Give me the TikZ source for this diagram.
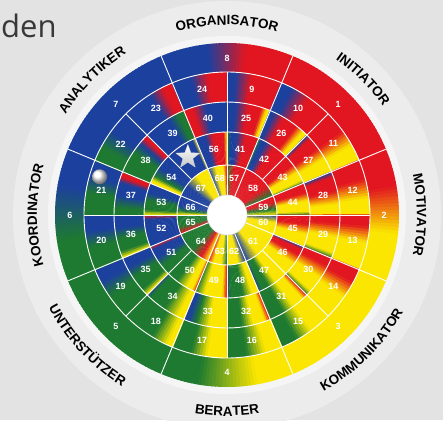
\documentclass[tikz,border=0pt]{standalone}
\usepackage{fontspec}
\setmainfont{Liberation Sans}
\newfontfamily\denfont{Open Sans}
\usetikzlibrary{decorations.text,shapes.geometric}
\definecolor{B}{RGB}{28,64,158}
\definecolor{R}{RGB}{226,22,32}
\definecolor{G}{RGB}{30,122,48}
\definecolor{Y}{RGB}{250,230,0}
\definecolor{bgA}{RGB}{227,227,227}
\definecolor{bgB}{RGB}{236,236,236}
\definecolor{bgC}{RGB}{245,245,245}
\newcommand\wseg[5]{%
  \foreach \sp/\sc [remember=\sp as \spp (initially 0), remember=\sc as \scc (initially white)] in {#5} {%
    \pgfmathsetmacro\sw{(#4-(#3))*(\sp-\spp)}%
    \ifdim\sw pt>0.01pt
      \pgfmathtruncatemacro\sk{max(1,ceil(\sw/1.2))}%
      \pgfmathsetmacro\sbase{#3+(#4-(#3))*\spp}%
      \foreach \j in {1,...,\sk}{%
        \pgfmathsetmacro\sa{\sbase+\sw*(\j-1)/\sk}%
        \pgfmathsetmacro\ea{\sa+\sw/\sk+0.3}%
        \pgfmathtruncatemacro\mx{round(100-100*(\j-0.5)/\sk)}%
        \fill[\scc!\mx!\sc] (\sa:#1) arc[start angle=\sa,end angle=\ea,radius=#1] -- (\ea:#2) arc[start angle=\ea,end angle=\sa,radius=#2] -- cycle;
      }%
    \fi
  }%
}
\def\lblfont{\fontsize{13.5}{13.5}\selectfont\bfseries}
\begin{document}
\begin{tikzpicture}[x=1pt,y=1pt,
  num/.style={text=white,font=\fontsize{9}{9}\selectfont\bfseries,inner sep=0},
  wl/.style={white,line width=0.9pt}]
\useasboundingbox (-227,-205) rectangle (216,215);
\fill[bgA] (-227,-205) rectangle (216,215);
\fill[bgB] (0,0) circle[radius=214];
\fill[bgC] (0,0) circle[radius=179];
% ring 1
\def\ra{143}\def\rb{172}
\wseg{\ra}{\rb}{67.5}{112.5}{0/R,0.35/R,0.65/B,1/B}
\wseg{\ra}{\rb}{22.5}{67.5}{0/R,1/R}
\wseg{\ra}{\rb}{-22.5}{22.5}{0/Y,0.36/Y,0.72/R,1/R}
\wseg{\ra}{\rb}{-67.5}{-22.5}{0/Y,1/Y}
\wseg{\ra}{\rb}{-112.5}{-67.5}{0/G,0.28/G,0.73/Y,1/Y}
\wseg{\ra}{\rb}{-157.5}{-112.5}{0/G,1/G}
\wseg{\ra}{\rb}{157.5}{202.5}{0/B,0.27/B,0.7/G,1/G}
\wseg{\ra}{\rb}{112.5}{157.5}{0/B,1/B}
% ring 2
\def\ra{113}\def\rb{143}
\wseg{\ra}{\rb}{67.5}{90}{0/R,0.55/R,0.85/B,1/B}
\wseg{\ra}{\rb}{45}{67.5}{0/R,0.45/R,0.8/B,1/B}
\wseg{\ra}{\rb}{22.5}{45}{0/Y,0.3/Y,0.6/R,1/R}
\wseg{\ra}{\rb}{0}{22.5}{0/Y,0.3/Y,0.65/R,1/R}
\wseg{\ra}{\rb}{-22.5}{0}{0/Y,0.5/Y,0.8/R,1/R}
\wseg{\ra}{\rb}{-45}{-22.5}{0/Y,0.45/Y,0.75/R,1/R}
\wseg{\ra}{\rb}{-67.5}{-45}{0/G,0.3/G,0.6/Y,1/Y}
\wseg{\ra}{\rb}{-90}{-67.5}{0/G,0.35/G,0.7/Y,1/Y}
\wseg{\ra}{\rb}{-112.5}{-90}{0/G,0.35/G,0.65/Y,1/Y}
\wseg{\ra}{\rb}{-135}{-112.5}{0/G,0.6/G,0.9/Y,1/Y}
\wseg{\ra}{\rb}{-157.5}{-135}{0/B,0.25/B,0.55/G,1/G}
\wseg{\ra}{\rb}{180}{202.5}{0/B,0.3/B,0.6/G,1/G}
\wseg{\ra}{\rb}{157.5}{180}{0/B,0.3/B,0.6/G,1/G}
\wseg{\ra}{\rb}{135}{157.5}{0/B,0.4/B,0.75/G,1/G}
\wseg{\ra}{\rb}{112.5}{135}{0/R,0.2/R,0.45/B,1/B}
\wseg{\ra}{\rb}{90}{112.5}{0/R,0.35/R,0.65/B,1/B}
% ring 3
\def\ra{83}\def\rb{113}
\wseg{\ra}{\rb}{67.5}{90}{0/Y,0.08/Y,0.2/R,0.5/R,0.8/B,1/B}
\wseg{\ra}{\rb}{45}{67.5}{0/Y,0.12/Y,0.3/R,0.65/R,0.9/B,1/B}
\wseg{\ra}{\rb}{22.5}{45}{0/Y,0.35/Y,0.6/R,0.9/R,1/B}
\wseg{\ra}{\rb}{0}{22.5}{0/Y,0.25/Y,0.55/R,0.88/R,1/B}
\wseg{\ra}{\rb}{-22.5}{0}{0/G,0.12/Y,0.5/Y,0.8/R,1/R}
\wseg{\ra}{\rb}{-45}{-22.5}{0/G,0.12/Y,0.5/Y,0.8/R,1/R}
\wseg{\ra}{\rb}{-67.5}{-45}{0/G,0.35/G,0.6/Y,0.88/Y,1/R}
\wseg{\ra}{\rb}{-90}{-67.5}{0/G,0.35/G,0.6/Y,0.88/Y,1/R}
\wseg{\ra}{\rb}{-112.5}{-90}{0/B,0.1/B,0.3/G,0.6/Y,1/Y}
\wseg{\ra}{\rb}{-135}{-112.5}{0/B,0.1/G,0.5/G,0.85/Y,1/Y}
\wseg{\ra}{\rb}{-157.5}{-135}{0/B,0.25/B,0.5/G,0.85/G,1/Y}
\wseg{\ra}{\rb}{180}{202.5}{0/B,0.3/B,0.55/G,0.85/G,1/Y}
\wseg{\ra}{\rb}{157.5}{180}{0/R,0.12/R,0.25/B,0.55/B,0.85/G,1/G}
\wseg{\ra}{\rb}{135}{157.5}{0/R,0.1/R,0.25/B,0.5/G,1/G}
\wseg{\ra}{\rb}{112.5}{135}{0/G,0.15/G,0.4/B,1/B}
\wseg{\ra}{\rb}{90}{112.5}{0/B,0.5/B,0.8/R,1/R}
% ring 4
\def\ra{50}\def\rb{83}
\wseg{\ra}{\rb}{67.5}{90}{0/R,0.4/R,0.7/B,0.88/B,1/G}
\wseg{\ra}{\rb}{45}{67.5}{0/R,0.45/R,0.75/B,0.9/B,1/G}
\wseg{\ra}{\rb}{22.5}{45}{0/G,0.1/Y,0.4/Y,0.65/R,1/R}
\wseg{\ra}{\rb}{0}{22.5}{0/G,0.1/Y,0.45/Y,0.7/R,1/R}
\wseg{\ra}{\rb}{-22.5}{0}{0/Y,0.4/Y,0.7/R,1/R}
\wseg{\ra}{\rb}{-45}{-22.5}{0/Y,0.4/Y,0.7/R,0.9/R,1/B}
\wseg{\ra}{\rb}{-67.5}{-45}{0/B,0.12/G,0.35/G,0.6/Y,1/Y}
\wseg{\ra}{\rb}{-90}{-67.5}{0/B,0.12/G,0.5/G,0.8/Y,1/Y}
\wseg{\ra}{\rb}{-112.5}{-90}{0/G,0.3/Y,0.85/Y,1/R}
\wseg{\ra}{\rb}{-135}{-112.5}{0/G,0.35/G,0.7/Y,0.9/Y,1/R}
\wseg{\ra}{\rb}{-157.5}{-135}{0/R,0.12/B,0.4/B,0.7/G,1/G}
\wseg{\ra}{\rb}{180}{202.5}{0/R,0.15/B,0.6/B,1/B}
\wseg{\ra}{\rb}{157.5}{180}{0/B,0.3/B,0.55/G,0.85/G,1/Y}
\wseg{\ra}{\rb}{135}{157.5}{0/B,0.45/B,0.75/G,0.9/Y,1/Y}
\wseg{\ra}{\rb}{112.5}{135}{0/Y,0.1/B,1/B}
\wseg{\ra}{\rb}{90}{112.5}{0/Y,0.1/R,0.45/R,0.7/B,1/B}
% ring 5
\def\ra{20}\def\rb{50}
\wseg{\ra}{\rb}{67.5}{90}{0/R,0.6/R,1/G}
\wseg{\ra}{\rb}{22.5}{67.5}{0/G,0.3/R,1/R}
\wseg{\ra}{\rb}{0}{22.5}{0/Y,0.3/G,0.7/R,1/R}
\wseg{\ra}{\rb}{-22.5}{0}{0/Y,0.6/Y,1/B}
\wseg{\ra}{\rb}{-67.5}{-22.5}{0/B,0.35/Y,1/Y}
\wseg{\ra}{\rb}{-90}{-67.5}{0/Y,0.6/Y,1/B}
\wseg{\ra}{\rb}{-112.5}{-90}{0/R,0.3/Y,0.7/Y,1/G}
\wseg{\ra}{\rb}{-157.5}{-112.5}{0/G,0.5/G,0.8/R,1/Y}
\wseg{\ra}{\rb}{180}{202.5}{0/G,0.6/G,1/R}
\wseg{\ra}{\rb}{157.5}{180}{0/B,0.5/B,0.8/G,1/Y}
\wseg{\ra}{\rb}{112.5}{157.5}{0/Y,0.35/Y,0.7/B,1/B}
\wseg{\ra}{\rb}{90}{112.5}{0/R,0.2/Y,0.6/Y,1/B}
% white lines
\foreach \r in {50,83,113,143}{\draw[wl] (0,0) circle[radius=\r];}
\foreach \a in {22.5,67.5,112.5,157.5,202.5,247.5,292.5,337.5}{\draw[wl] (\a:20) -- (\a:172);}
\foreach \a in {0,90,180,270}{\draw[wl] (\a:20) -- (\a:143);}
\foreach \a in {45,135,225,315}{\draw[wl] (\a:50) -- (\a:143);}
\node[circle,fill=white,draw=gray!25,line width=0.6pt,minimum size=40pt,inner sep=0] (hole) at (0,0) {};
% numbers
\foreach \n/\a in {8/90,1/45,2/0,3/-45,4/-90,5/-135,6/180,7/135}{\node[num] (n\n) at (\a:157) {\n};}
\foreach \n/\a in {9/78.75,10/56.25,11/33.75,12/11.25,13/-11.25,14/-33.75,15/-56.25,16/-78.75,17/-101.25,18/-123.75,19/-146.25,20/-168.75,21/168.75,22/146.25,23/123.75,24/101.25}{\node[num] (n\n) at (\a:128) {\n};}
\foreach \n/\a in {25/78.75,26/56.25,27/33.75,28/11.25,29/-11.25,30/-33.75,31/-56.25,32/-78.75,33/-101.25,34/-123.75,35/-146.25,36/-168.75,37/168.75,38/146.25,39/123.75,40/101.25}{\node[num] (n\n) at (\a:98) {\n};}
\foreach \n/\a in {41/78.75,42/56.25,43/33.75,44/11.25,45/-11.25,46/-33.75,47/-56.25,48/-78.75,49/-101.25,50/-123.75,51/-146.25,52/-168.75,53/168.75,54/146.25,56/101.25}{\node[num] (n\n) at (\a:67) {\n};}
\foreach \n/\a in {57/78.75,58/45,59/11.25,60/-11.25,61/-45,62/-78.75,63/-101.25,64/-135,65/-168.75,66/168.75,67/135,68/101.25}{\node[num] (n\n) at (\a:37) {\n};}
% star and ball
\node[star,star points=5,star point ratio=2.4,minimum size=25pt,inner sep=0,top color=white,bottom color=gray!45,draw=gray!30,line width=0.3pt] (star) at (124:70) {};
\node[circle,minimum size=15pt,inner sep=0,shading=ball,ball color=white] (ball) at (163.3:133) {};
% role labels
\path[decorate,decoration={text along path,text align=center,text={|\lblfont|ORGANISATOR}}] (140:190) arc[start angle=140,end angle=40,radius=190];
\path[decorate,decoration={text along path,text align=center,text={|\lblfont|INITIATOR}}] (95:190) arc[start angle=95,end angle=-5,radius=190];
\path[decorate,decoration={text along path,text align=center,text={|\lblfont|MOTIVATOR}}] (50:190) arc[start angle=50,end angle=-50,radius=190];
\path[decorate,decoration={text along path,text align=center,text={|\lblfont|ANALYTIKER}}] (185:190) arc[start angle=185,end angle=85,radius=190];
\path[decorate,decoration={text along path,text align=center,text={|\lblfont|KOORDINATOR}}] (230:190) arc[start angle=230,end angle=130,radius=190];
\path[decorate,decoration={text along path,text align=center,text={|\lblfont|UNTERSTÜTZER}}] (-187:201) arc[start angle=-187,end angle=-87,radius=201];
\path[decorate,decoration={text along path,text align=center,text={|\lblfont|BERATER}}] (-140:201) arc[start angle=-140,end angle=-40,radius=201];
\path[decorate,decoration={text along path,text align=center,text={|\lblfont|KOMMUNIKATOR}}] (-95:201) arc[start angle=-95,end angle=5,radius=201];
\node[anchor=base west,inner sep=0,font=\denfont\fontsize{31}{31}\selectfont,text=black!78] (den) at (-226,177) {den};
\end{tikzpicture}
\end{document}
